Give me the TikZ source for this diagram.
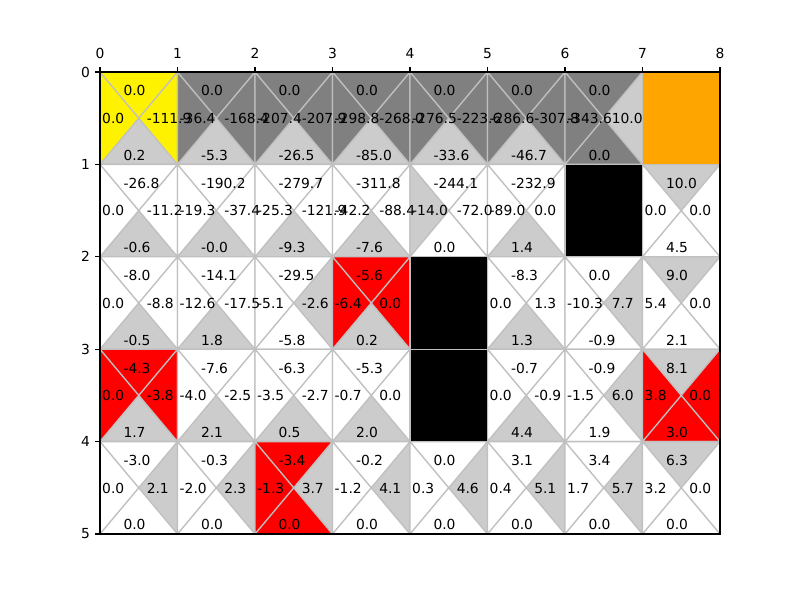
\documentclass[tikz,border=0pt]{standalone}
\usepackage{fontspec}
\setmainfont{DejaVu Sans}
\definecolor{darkg}{HTML}{808080}
\definecolor{bestg}{HTML}{CCCCCC}
\definecolor{edgeg}{HTML}{C0C0C0}
\definecolor{orng}{HTML}{FFA500}
\tikzset{
  besttriT/.style={insert path={(0,0)--(1,0)--(.5,.5)--cycle}},
  besttriR/.style={insert path={(1,0)--(1,1)--(.5,.5)--cycle}},
  besttriB/.style={insert path={(0,1)--(1,1)--(.5,.5)--cycle}},
  besttriL/.style={insert path={(0,0)--(0,1)--(.5,.5)--cycle}},
  qv/.style={inner sep=0pt, text=black, anchor=base west},
  cellline/.style={draw=edgeg, line width=1pt},
  spine/.style={draw=black, line width=0.8pt},
  ticklab/.style={inner sep=0pt, text=black}
}
\def\celllist{
 0/0/yellow/B/0.0/-111.9/0.2/0.0,
 1/0/darkg/B/0.0/-168.4/-5.3/-36.4,
 2/0/darkg/B/0.0/-207.9/-26.5/-207.4,
 3/0/darkg/B/0.0/-268.0/-85.0/-298.8,
 4/0/darkg/B/0.0/-223.6/-33.6/-276.5,
 5/0/darkg/B/0.0/-307.8/-46.7/-286.6,
 6/0/darkg/R/0.0/10.0/0.0/-343.6,
 0/1/white/B/-26.8/-11.2/-0.6/0.0,
 1/1/white/B/-190.2/-37.4/-0.0/-19.3,
 2/1/white/B/-279.7/-121.9/-9.3/-25.3,
 3/1/white/B/-311.8/-88.4/-7.6/-42.2,
 4/1/white/L/-244.1/-72.0/0.0/-14.0,
 5/1/white/B/-232.9/0.0/1.4/-89.0,
 7/1/white/T/10.0/0.0/4.5/0.0,
 0/2/white/B/-8.0/-8.8/-0.5/0.0,
 1/2/white/B/-14.1/-17.5/1.8/-12.6,
 2/2/white/R/-29.5/-2.6/-5.8/-5.1,
 3/2/red/B/-5.6/0.0/0.2/-6.4,
 5/2/white/B/-8.3/1.3/1.3/0.0,
 6/2/white/R/0.0/7.7/-0.9/-10.3,
 7/2/white/T/9.0/0.0/2.1/5.4,
 0/3/red/B/-4.3/-3.8/1.7/0.0,
 1/3/white/B/-7.6/-2.5/2.1/-4.0,
 2/3/white/B/-6.3/-2.7/0.5/-3.5,
 3/3/white/B/-5.3/0.0/2.0/-0.7,
 5/3/white/B/-0.7/-0.9/4.4/0.0,
 6/3/white/R/-0.9/6.0/1.9/-1.5,
 7/3/red/T/8.1/0.0/3.0/3.8,
 0/4/white/R/-3.0/2.1/0.0/0.0,
 1/4/white/R/-0.3/2.3/0.0/-2.0,
 2/4/red/R/-3.4/3.7/0.0/-1.3,
 3/4/white/R/-0.2/4.1/0.0/-1.2,
 4/4/white/R/0.0/4.6/0.0/0.3,
 5/4/white/R/3.1/5.1/0.0/0.4,
 6/4/white/R/3.4/5.7/0.0/1.7,
 7/4/white/T/6.3/0.0/0.0/3.2}
\begin{document}
\begin{tikzpicture}[x=0.7227pt,y=-0.7227pt,font=\fontsize{10}{12}\selectfont]
\fill[white] (0,0) rectangle (800,600);
\useasboundingbox (0,0) rectangle (800,600);
\begin{scope}[xshift=72.27pt,yshift=-52.034pt,x=56.009pt,y=-66.777pt]
\foreach \cx/\cy/\cf/\cb/\vt/\vr/\vb/\vl in \celllist {
  \begin{scope}[shift={(\cx,\cy)}]
   \fill[\cf] (0,0) rectangle (1,1);
   \fill[bestg,besttri\cb];
   \path[cellline] (0,0) rectangle (1,1) (0,0)--(1,1) (1,0)--(0,1);
  \end{scope}
}
\foreach \cx/\cy in {6/1,4/2,4/3}{
  \fill[black] (\cx,\cy) rectangle ++(1,1);
  \path[cellline] (\cx,\cy) rectangle ++(1,1);
}
\fill[orng] (7,0) rectangle (8,1);
\foreach \cx/\cy/\cf/\cb/\vt/\vr/\vb/\vl in \celllist {
  \begin{scope}[shift={(\cx,\cy)}]
   \node[qv] (t-\cx-\cy) at (.3,.259) {\vt};
   \node[qv] (b-\cx-\cy) at (.3,.955) {\vb};
   \node[qv] (l-\cx-\cy) at (.025,.557) {\vl};
   \node[qv] (r-\cx-\cy) at (.6,.557) {\vr};
  \end{scope}
}
\path[spine] (0,0) rectangle (8,5);
\foreach \i in {0,...,8}{
  \draw[line width=0.8pt] (\i,0) -- ++(0pt,3.5pt);
  \node[ticklab,anchor=south] (xl\i) at ([yshift=9.3pt]\i,0) {\i};
}
\foreach \j in {0,...,5}{
  \draw[line width=0.8pt] (0,\j) -- ++(-3.5pt,0pt);
  \node[ticklab,anchor=east] (yl\j) at ([xshift=-7pt]0,\j) {\j};
}
\end{scope}
\end{tikzpicture}
\end{document}
